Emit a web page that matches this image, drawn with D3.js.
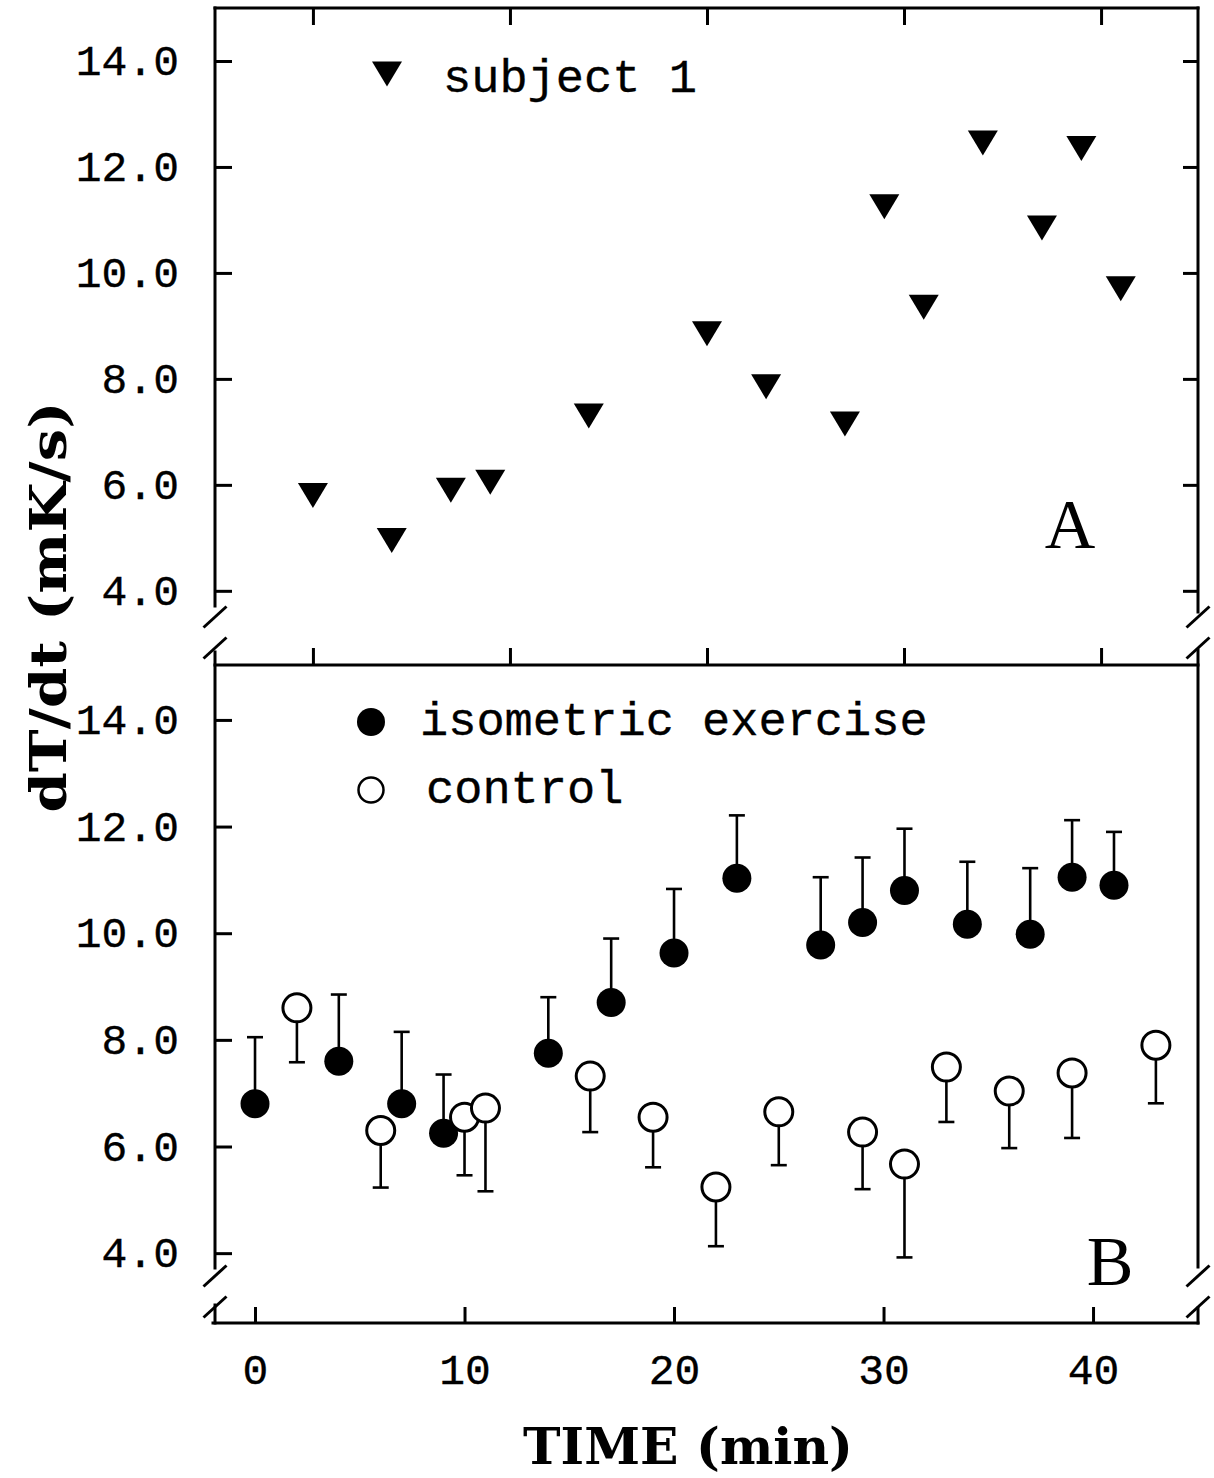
<!DOCTYPE html>
<html>
<head>
<meta charset="utf-8">
<script src="https://cdn.jsdelivr.net/npm/d3@7"></script>
<style>
  body { margin: 0; background: #fff; }
  svg { display: block; background: #fff; }
</style>
</head>
<body>
<div id="chart"></div>
<script>
// panel A : subject 1
const timeA = [0, 4, 7, 9, 14, 20, 23, 27, 29, 31, 34, 37, 39, 41];
const subject1 = [5.8, 4.95, 5.9, 6.05, 7.3, 8.85, 7.85, 7.15, 11.25, 9.35, 12.45, 10.85, 12.35, 9.7];

// panel B : isometric exercise (bars go up)
const timeExercise = [0, 4, 7, 9, 14, 17, 20, 23, 27, 29, 31, 34, 37, 39, 41];
const exercise = [6.8, 7.6, 6.8, 6.25, 7.75, 8.7, 9.63, 11.03, 9.78, 10.2, 10.8, 10.17, 9.98, 11.05, 10.9];
const exerciseErr = [1.25, 1.25, 1.35, 1.1, 1.05, 1.2, 1.2, 1.18, 1.27, 1.22, 1.16, 1.17, 1.24, 1.07, 1.0];

// panel B : control (bars go down)
const timeControl = [2, 6, 10, 11, 16, 19, 22, 25, 29, 31, 33, 36, 39, 43];
const control = [8.6, 6.3, 6.55, 6.72, 7.32, 6.55, 5.24, 6.65, 6.27, 5.67, 7.49, 7.04, 7.38, 7.9];
const controlErr = [1.02, 1.07, 1.09, 1.56, 1.05, 0.94, 1.11, 1.0, 1.07, 1.75, 1.03, 1.07, 1.22, 1.09];

const yTicks = [4, 6, 8, 10, 12, 14];
const xTicks = [0, 10, 20, 30, 40];

const W = 1214, H = 1478;
const left = 215, right = 1198;
const aTop = 8, mid = 665, bBottom = 1323;
const mono = "'Liberation Mono', 'Courier New', monospace";

const svg = d3.select("#chart").append("svg")
  .attr("width", W)
  .attr("height", H);

const xA = d3.scaleLinear().domain([-4.97, 44.92]).range([left, right]);
const yA = d3.scaleLinear().domain([2.6, 15.0]).range([mid, aTop]);
const xB = d3.scaleLinear().domain([-1.91, 45.01]).range([left, right]);
const yB = d3.scaleLinear().domain([2.69, 15.03]).range([bBottom, mid]);

function styleAxis(g) {
  g.select(".domain").remove();
  g.selectAll(".tick line").attr("stroke", "#000").attr("stroke-width", 3);
  g.selectAll(".tick text")
    .attr("font-family", mono)
    .attr("font-size", 43)
    .attr("fill", "#000")
    .attr("stroke", "#000")
    .attr("stroke-width", 0.35);
}

// axes panel A
svg.append("g").attr("transform", `translate(${left},0)`)
  .call(d3.axisLeft(yA).tickValues(yTicks).tickSize(-17).tickPadding(36).tickFormat(d3.format(".1f")))
  .call(styleAxis);
svg.append("g").attr("transform", `translate(${right},0)`)
  .call(d3.axisRight(yA).tickValues(yTicks).tickSize(-15).tickFormat(""))
  .call(styleAxis);
svg.append("g").attr("transform", `translate(0,${aTop})`)
  .call(d3.axisTop(xA).tickValues(xTicks).tickSize(-17).tickFormat(""))
  .call(styleAxis);
svg.append("g").attr("transform", `translate(0,${mid})`)
  .call(d3.axisBottom(xA).tickValues(xTicks).tickSize(-17).tickFormat(""))
  .call(styleAxis);

// axes panel B
svg.append("g").attr("transform", `translate(${left},0)`)
  .call(d3.axisLeft(yB).tickValues(yTicks).tickSize(-17).tickPadding(36).tickFormat(d3.format(".1f")))
  .call(styleAxis);
svg.append("g").attr("transform", `translate(0,${bBottom})`)
  .call(d3.axisBottom(xB).tickValues(xTicks).tickSize(-16).tickPadding(30).tickFormat(d3.format("d")))
  .call(styleAxis);

// frame with axis breaks
const frame = svg.append("g")
  .attr("stroke", "#000")
  .attr("stroke-width", 3)
  .attr("fill", "none");

const segs = [
  [left, aTop, right, aTop], [left, mid, right, mid], [left - 2, bBottom, right, bBottom],
  [left, aTop, left, 606], [left, 652, left, 1268], [left, 1305, left, bBottom],
  [right, aTop, right, 612], [right, 650, right, 1267], [right, 1308, right, bBottom]
];
frame.selectAll("line.seg").data(segs).enter().append("line")
  .attr("class", "seg")
  .attr("x1", d => d[0]).attr("y1", d => d[1])
  .attr("x2", d => d[2]).attr("y2", d => d[3])
  .attr("stroke-linecap", "square");

const breaks = [];
[617, 648, 1276, 1307].forEach(cy => [left, right].forEach(cx => breaks.push([cx, cy])));
frame.selectAll("line.brk").data(breaks).enter().append("line")
  .attr("class", "brk")
  .attr("x1", d => d[0] - 11.5).attr("y1", d => d[1] + 10.5)
  .attr("x2", d => d[0] + 11.5).attr("y2", d => d[1] - 10.5);

// triangles (panel A)
const tri = "M-15,-12.5L15,-12.5L0,12.5Z";
svg.append("g").selectAll("path")
  .data(timeA.map((t, i) => ({ t: t, v: subject1[i] })))
  .enter().append("path")
  .attr("d", tri)
  .attr("transform", d => `translate(${xA(d.t)},${yA(d.v)})`)
  .attr("fill", "#000");

// error bars
const exData = timeExercise.map((t, i) => ({ t: t, v: exercise[i], e: exerciseErr[i] }));
const ctData = timeControl.map((t, i) => ({ t: t, v: control[i], e: -controlErr[i] }));

function drawBars(data) {
  const g = svg.append("g").attr("stroke", "#000").attr("stroke-width", 2.6);
  g.selectAll("line.v").data(data).enter().append("line")
    .attr("x1", d => xB(d.t)).attr("x2", d => xB(d.t))
    .attr("y1", d => yB(d.v)).attr("y2", d => yB(d.v + d.e));
  g.selectAll("line.c").data(data).enter().append("line")
    .attr("x1", d => xB(d.t) - 8).attr("x2", d => xB(d.t) + 8)
    .attr("y1", d => yB(d.v + d.e)).attr("y2", d => yB(d.v + d.e));
}
drawBars(exData);
drawBars(ctData);

svg.append("g").selectAll("circle")
  .data(exData).enter().append("circle")
  .attr("cx", d => xB(d.t)).attr("cy", d => yB(d.v))
  .attr("r", 14.5)
  .attr("fill", "#000");

svg.append("g").selectAll("circle")
  .data(ctData).enter().append("circle")
  .attr("cx", d => xB(d.t)).attr("cy", d => yB(d.v))
  .attr("r", 14)
  .attr("fill", "#fff")
  .attr("stroke", "#000")
  .attr("stroke-width", 3);

// legends
svg.append("path").attr("d", tri).attr("transform", "translate(387,74)").attr("fill", "#000");
svg.append("circle").attr("cx", 371).attr("cy", 722).attr("r", 14).attr("fill", "#000");
svg.append("circle").attr("cx", 371).attr("cy", 790).attr("r", 12.5)
  .attr("fill", "#fff").attr("stroke", "#000").attr("stroke-width", 2.5);

const legendText = [
  { x: 443, y: 92, s: "subject 1" },
  { x: 420, y: 735, s: "isometric exercise" },
  { x: 426, y: 803, s: "control" }
];
svg.selectAll("text.leg").data(legendText).enter().append("text")
  .attr("class", "leg")
  .attr("x", d => d.x).attr("y", d => d.y)
  .attr("font-family", mono)
  .attr("font-size", 47)
  .attr("fill", "#000")
  .attr("stroke", "#000")
  .attr("stroke-width", 0.35)
  .text(d => d.s);

// panel letters
svg.append("text").attr("x", 1070).attr("y", 548).attr("text-anchor", "middle")
  .attr("font-family", "'Liberation Serif', serif").attr("font-size", 70).text("A");
svg.append("text").attr("x", 1110).attr("y", 1285).attr("text-anchor", "middle")
  .attr("font-family", "'Liberation Serif', serif").attr("font-size", 70).text("B");

// axis titles
svg.append("text")
  .attr("transform", "translate(66,607) rotate(-90)")
  .attr("text-anchor", "middle")
  .attr("font-family", "'DejaVu Serif', serif")
  .attr("font-weight", "bold")
  .attr("font-size", 50)
  .attr("textLength", 411)
  .attr("lengthAdjust", "spacingAndGlyphs")
  .text("dT/dt (mK/s)");

svg.append("text")
  .attr("x", 688).attr("y", 1464)
  .attr("text-anchor", "middle")
  .attr("font-family", "'DejaVu Serif', serif")
  .attr("font-weight", "bold")
  .attr("font-size", 50)
  .attr("textLength", 330)
  .attr("lengthAdjust", "spacingAndGlyphs")
  .text("TIME (min)");
</script>
</body>
</html>
